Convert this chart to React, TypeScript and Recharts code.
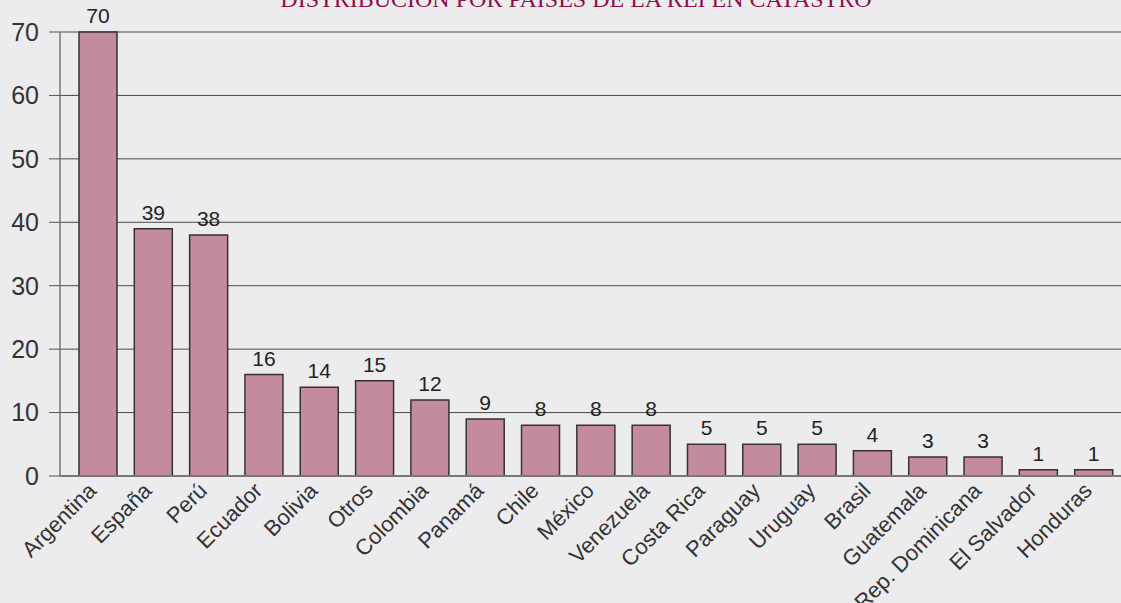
import React from "react";
import { BarChart, Bar, XAxis, YAxis, CartesianGrid, LabelList } from "recharts";

const countries = [
  "Argentina", "España", "Perú", "Ecuador", "Bolivia", "Otros", "Colombia", "Panamá",
  "Chile", "México", "Venezuela", "Costa Rica", "Paraguay", "Uruguay", "Brasil",
  "Guatemala", "Rep. Dominicana", "El Salvador", "Honduras",
];
const counts = [70, 39, 38, 16, 14, 15, 12, 9, 8, 8, 8, 5, 5, 5, 4, 3, 3, 1, 1];
const yTicks = [0, 10, 20, 30, 40, 50, 60, 70];
const title = "DISTRIBUCIÓN POR PAÍSES DE LA REI EN CATASTRO";

const data = countries.map((c, i) => ({ name: c, value: counts[i] }));

const FONT = "'Liberation Sans', Arial, sans-serif";

const XTick = (props: any) => {
  const { x, y, payload } = props;
  return (
    <g transform={`translate(${x},${y + 16}) rotate(-45)`}>
      <text x={0} y={0} textAnchor="end" fill="#333" fontSize={22} fontFamily={FONT}>
        {payload.value}
      </text>
    </g>
  );
};

export default function App() {
  return (
    <div
      style={{
        position: "absolute",
        left: 0,
        top: 0,
        width: 1121,
        height: 603,
        background: "#ECECEE",
        overflow: "hidden",
      }}
    >
      <svg width={1121} height={30} style={{ position: "absolute", left: 0, top: 0 }}>
        <text
          x={576}
          y={7}
          textAnchor="middle"
          fill="#8B1048"
          fontSize={24}
          fontFamily="'Liberation Serif', serif"
        >
          {title}
        </text>
      </svg>
      <BarChart
        width={1121}
        height={603}
        data={data}
        margin={{ top: 32, right: 0, bottom: 0, left: 0 }}
        barSize={38}
        style={{ position: "absolute", left: 0, top: 0 }}
      >
        <CartesianGrid vertical={false} stroke="#4a4a4a" strokeWidth={1} />
        <XAxis
          dataKey="name"
          interval={0}
          height={127}
          padding={{ left: 10, right: 0 }}
          axisLine={{ stroke: "#777", strokeWidth: 2 }}
          tickLine={false}
          tickSize={0}
          tickMargin={0}
          tick={<XTick />}
        />
        <YAxis
          width={60}
          domain={[0, 70]}
          ticks={yTicks}
          interval={0}
          tickSize={11}
          tickMargin={10}
          axisLine={{ stroke: "#777", strokeWidth: 1.5 }}
          tickLine={{ stroke: "#555" }}
          tick={{ fill: "#333", fontSize: 25, fontFamily: FONT }}
        />
        <Bar
          dataKey="value"
          fill="#C48AA0"
          stroke="#333"
          strokeWidth={1.5}
          isAnimationActive={false}
        >
          <LabelList
            dataKey="value"
            position="top"
            offset={9}
            fill="#222"
            fontSize={21}
            fontFamily={FONT}
          />
        </Bar>
      </BarChart>
    </div>
  );
}
